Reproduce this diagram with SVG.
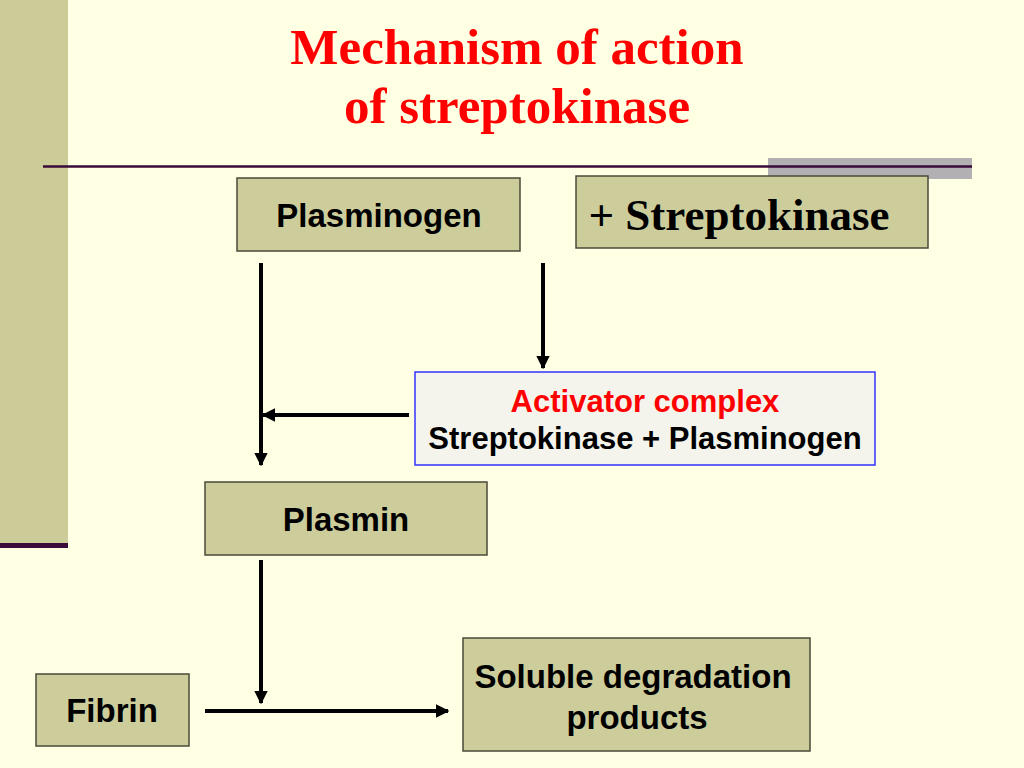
<svg xmlns="http://www.w3.org/2000/svg" width="1024" height="768" viewBox="0 0 1024 768">
<style>
.box{fill:#CDCD9C;stroke:#4A4A3A;stroke-width:1.5}
.t{font-family:"Liberation Sans",Arial,sans-serif;font-weight:bold;font-size:33px;fill:#000;text-anchor:middle}
.title{font-family:"Liberation Serif","Times New Roman",serif;font-weight:bold;font-size:51px;fill:#FF0000;text-anchor:middle}
.conn line{stroke:#000;stroke-width:4;fill:none}
</style>
<defs>
<marker id="ah" viewBox="0 0 10 10" refX="9" refY="5" markerWidth="3.4" markerHeight="3.4" orient="auto" markerUnits="strokeWidth">
<path d="M0,0 L10,5 L0,10 z" fill="#000"/>
</marker>
</defs>
<rect width="1024" height="768" fill="#FFFFE3"/>
<rect x="0" y="0" width="68" height="543" fill="#CCCC99"/>
<rect x="0" y="543" width="68" height="5" fill="#3A0A3A"/>
<rect x="768" y="158" width="204" height="21" fill="#B3B0B3"/>
<line x1="43" y1="166.5" x2="972" y2="166.5" stroke="#3A0A3A" stroke-width="2.5"/>
<g id="title">
<text class="title" x="517" y="64">Mechanism of action</text>
<text class="title" x="517" y="123">of streptokinase</text>
</g>
<g id="plasminogen">
<rect class="box" x="237" y="178" width="283" height="73"/>
<text class="t" x="379" y="227">Plasminogen</text>
</g>
<g id="streptokinase">
<rect class="box" x="576" y="176" width="352" height="72"/>
<text x="739" y="230" style="font-family:'Liberation Serif','Times New Roman',serif;font-weight:bold;font-size:45px;fill:#000;text-anchor:middle">+ Streptokinase</text>
</g>
<g id="activator">
<rect x="415" y="372" width="460" height="93" fill="#F4F4EC" stroke="#3333FF" stroke-width="1.5"/>
<text class="t" x="645" y="412" style="font-size:31px;fill:#FF0000">Activator complex</text>
<text class="t" x="645" y="449" style="font-size:31px">Streptokinase + Plasminogen</text>
</g>
<g id="plasmin">
<rect class="box" x="205" y="482" width="282" height="73"/>
<text class="t" x="346" y="531">Plasmin</text>
</g>
<g id="fibrin">
<rect class="box" x="36" y="674" width="153" height="72"/>
<text class="t" x="112" y="722">Fibrin</text>
</g>
<g id="soluble">
<rect class="box" x="463" y="638" width="347" height="113"/>
<text class="t" x="633" y="688">Soluble degradation</text>
<text class="t" x="637" y="729">products</text>
</g>
<g class="conn" id="connectors">
<line x1="261" y1="263" x2="261" y2="465" marker-end="url(#ah)"/>
<line x1="543" y1="263" x2="543" y2="368" marker-end="url(#ah)"/>
<line x1="409" y1="415" x2="263" y2="415" marker-end="url(#ah)"/>
<line x1="261" y1="560" x2="261" y2="703" marker-end="url(#ah)"/>
<line x1="205" y1="711" x2="448" y2="711" marker-end="url(#ah)"/>
</g>
</svg>
